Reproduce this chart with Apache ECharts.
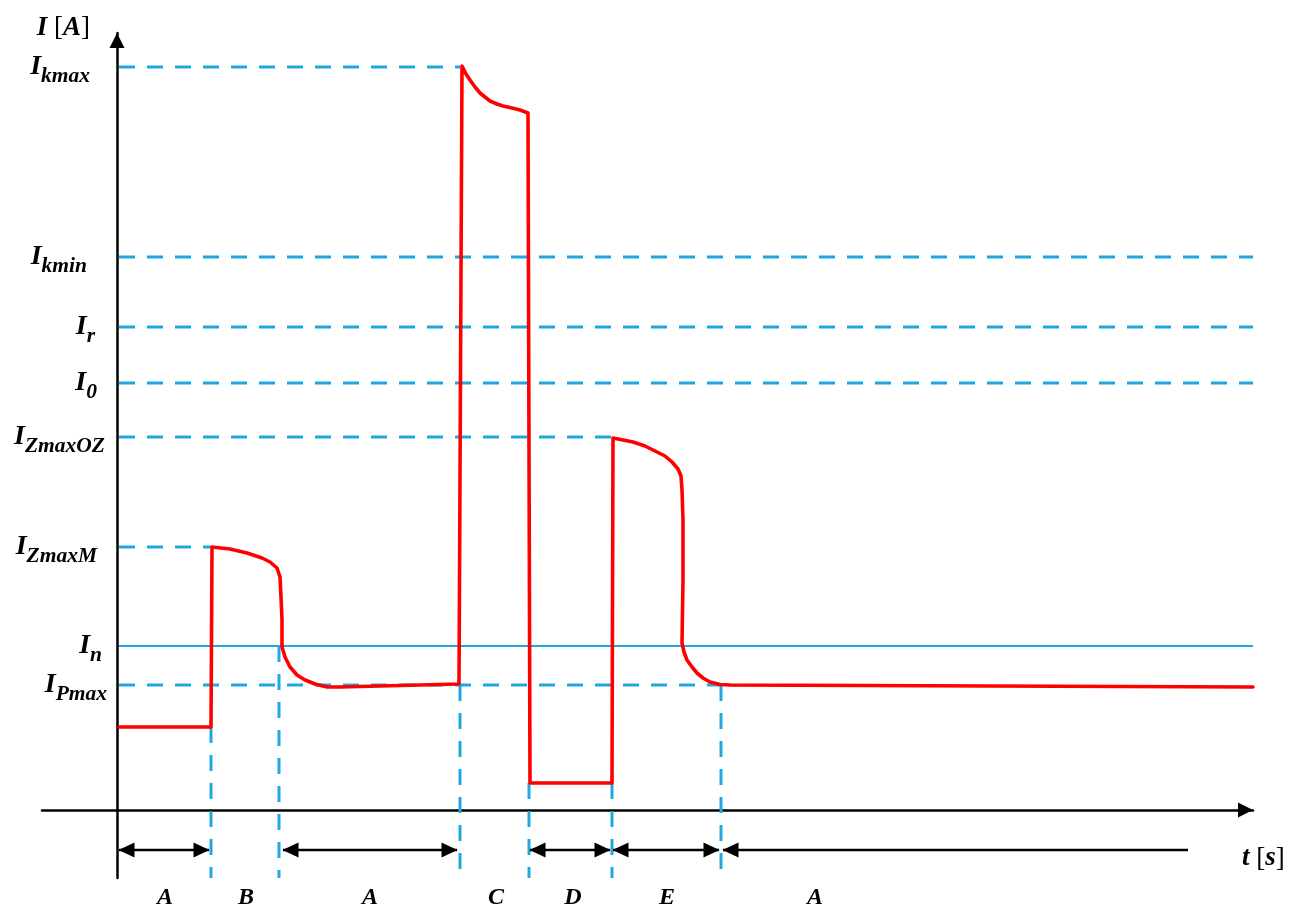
<!DOCTYPE html>
<html>
<head>
<meta charset="utf-8">
<script src="https://cdn.jsdelivr.net/npm/echarts@6/dist/echarts.min.js"></script>
<style>html,body{margin:0;padding:0;background:#fff}#c{width:1291px;height:909px}</style>
</head>
<body>
<div id="c"></div>
<script>
// ---------------- DATA (arbitrary time / current units) ----------------
const levelNames  = ['kmax', 'kmin', 'r', '0', 'ZmaxOZ', 'ZmaxM', 'n', 'Pmax'];
const levelValues = [74.3, 55.3, 48.3, 42.7, 37.3, 26.3, 16.4, 12.5];
const levelStartT = 0.2;
const levelEndT   = [34.3, 113.6, 113.6, 113.6, 49.5, 9.4, 113.6, 60.4];
const solidLevel  = 'n';

const boundaryT      = [9.4, 16.2, 34.3, 41.2, 49.5, 60.4];
const boundaryTopI   = [8.3, 16.4, 12.5, 2.7, 2.7, 12.5];
const boundaryBottomI = -6.8;

const phaseNames  = ['A', 'B', 'A', 'C', 'D', 'E', 'A'];
const phaseLabelT = [4.8, 12.9, 25.3, 37.9, 45.6, 55.0, 69.8];

const arrowSpans  = [[0.2, 9.2], [16.6, 34.0], [41.3, 49.3], [49.6, 60.2], [60.6, 107.1]];
const arrowRightHead = [true, true, true, true, false];
const arrowLevelI = -4.0;

const currentT = [0.2, 9.4, 9.5, 11.3, 13.0, 14.5, 15.3, 16.0, 16.3, 16.4, 16.5, 16.5, 16.8, 17.3, 18.0, 18.8, 19.8, 21.0, 22.3, 28.3, 34.2,
                  34.5, 34.9, 35.3, 35.8, 36.3, 36.8, 37.3, 38.0, 38.6, 39.5, 40.3, 41.1, 41.3, 41.3, 49.5,
                  49.6, 51.6, 52.8, 54.0, 54.8, 55.5, 56.1, 56.4, 56.5, 56.6, 56.6, 56.5, 56.7, 57.0, 57.5, 58.0, 58.6, 59.3, 60.3, 61.3, 113.6];
const currentI = [8.3, 8.3, 26.3, 26.1, 25.7, 25.2, 24.8, 24.2, 23.3, 21.3, 19.0, 16.3, 15.3, 14.3, 13.5, 13.0, 12.6, 12.3, 12.3, 12.45, 12.6,
                  74.4, 73.6, 73.0, 72.3, 71.7, 71.3, 70.9, 70.6, 70.4, 70.2, 70.0, 69.7, 69.5, 2.7, 2.7,
                  37.2, 36.8, 36.4, 35.8, 35.4, 34.8, 34.1, 33.4, 32.0, 29.0, 23.0, 16.7, 15.8, 15.0, 14.3, 13.7, 13.2, 12.8, 12.55, 12.5, 12.3];

const tMin = -7.5, tMax = 113.6, iMin = -6.8, iMax = 77.7;

// ---------------- STYLE ----------------
const BLUE = '#1fa8e0';
const RED = '#ff0000';
const SERIF = 'Liberation Serif';
const labelExtraRight = {kmax: 17, kmin: 20, r: 12, '0': 10, ZmaxOZ: 2, ZmaxM: 10, n: 5, Pmax: 0};

const yRich = {
  I: {fontFamily: SERIF, fontStyle: 'italic', fontWeight: 'bold', fontSize: 28, color: '#000'}
};
levelNames.forEach((n, i) => {
  yRich['s' + i] = {fontFamily: SERIF, fontStyle: 'italic', fontWeight: 'bold', fontSize: 21.5, color: '#000',
                    padding: [18, labelExtraRight[n] || 0, 0, 0]};
});

const series = [];
levelNames.forEach((n, i) => {
  const solid = n === solidLevel;
  series.push({
    type: 'line', silent: true, showSymbol: false, z: 2,
    data: [[levelStartT, levelValues[i]], [levelEndT[i], levelValues[i]]],
    lineStyle: {color: BLUE, width: solid ? 2.2 : 3, type: solid ? 'solid' : [16, 12]}
  });
});
boundaryT.forEach((t, i) => {
  series.push({
    type: 'line', silent: true, showSymbol: false, z: 2,
    data: [[t, boundaryTopI[i]], [t, boundaryBottomI]],
    lineStyle: {color: BLUE, width: 3, type: [16, 12]}
  });
});
arrowSpans.forEach((s, i) => {
  series.push({
    type: 'line', silent: true, z: 3, showSymbol: true, showAllSymbol: true,
    symbolSize: [15, 16],
    itemStyle: {color: '#000'},
    lineStyle: {color: '#000', width: 2.5},
    data: [
      {value: [s[0], arrowLevelI], symbol: 'triangle', symbolRotate: 90, symbolOffset: [7.5, 0]},
      {value: [s[1], arrowLevelI], symbol: arrowRightHead[i] ? 'triangle' : 'none', symbolRotate: -90, symbolOffset: [-7.5, 0]}
    ]
  });
});
series.push({
  type: 'line', silent: true, showSymbol: false, z: 5,
  data: currentT.map((t, i) => [t, currentI[i]]),
  lineStyle: {color: RED, width: 3.6, join: 'round', cap: 'round'}
});

const nameRich = {
  v: {fontFamily: SERIF, fontStyle: 'italic', fontWeight: 'bold', fontSize: 27, color: '#000'},
  b: {fontFamily: SERIF, fontSize: 27, color: '#000'}
};

const chart = echarts.init(document.getElementById('c'), null, {renderer: 'canvas'});
chart.setOption({
  animation: false,
  backgroundColor: '#fff',
  grid: {left: 42, right: 38, top: 33, bottom: 31, containLabel: false, outerBoundsMode: 'none'},
  xAxis: {
    type: 'value', min: tMin, max: tMax,
    splitLine: {show: false}, axisTick: {show: false},
    axisLine: {onZero: true, lineStyle: {color: '#000', width: 2.5}, symbol: ['none', 'triangle'], symbolSize: [15, 15], symbolOffset: [0, -7.5]},
    axisLabel: {
      customValues: phaseLabelT, margin: 8, verticalAlign: 'top',
      fontFamily: SERIF, fontStyle: 'italic', fontWeight: 'bold', fontSize: 24, color: '#000',
      formatter: v => { const i = phaseLabelT.findIndex(x => Math.abs(x - v) < 1e-6); return i >= 0 ? phaseNames[i] : ''; }
    },
    name: '{v|t }{b|[}{v|s}{b|]}', nameLocation: 'end', nameGap: -11,
    nameTextStyle: {align: 'left', verticalAlign: 'top', padding: [35, 0, 0, 0], rich: nameRich}
  },
  yAxis: {
    type: 'value', min: iMin, max: iMax,
    splitLine: {show: false}, axisTick: {show: false},
    axisLine: {onZero: true, lineStyle: {color: '#000', width: 2.5}, symbol: ['none', 'triangle'], symbolSize: [15, 15], symbolOffset: [0, -7.5]},
    axisLabel: {
      customValues: levelValues, margin: -65, align: 'right', verticalAlign: 'middle',
      formatter: v => { const i = levelValues.findIndex(x => Math.abs(x - v) < 1e-6); return i >= 0 ? '{I|I}{s' + i + '|' + levelNames[i] + '}' : ''; },
      rich: yRich
    },
    name: '{v|I }{b|[}{v|A}{b|]}', nameLocation: 'end', nameGap: 5,
    nameTextStyle: {align: 'right', verticalAlign: 'middle', padding: [0, 27, 0, 0], rich: nameRich}
  },
  series: series
});
</script>
</body>
</html>
